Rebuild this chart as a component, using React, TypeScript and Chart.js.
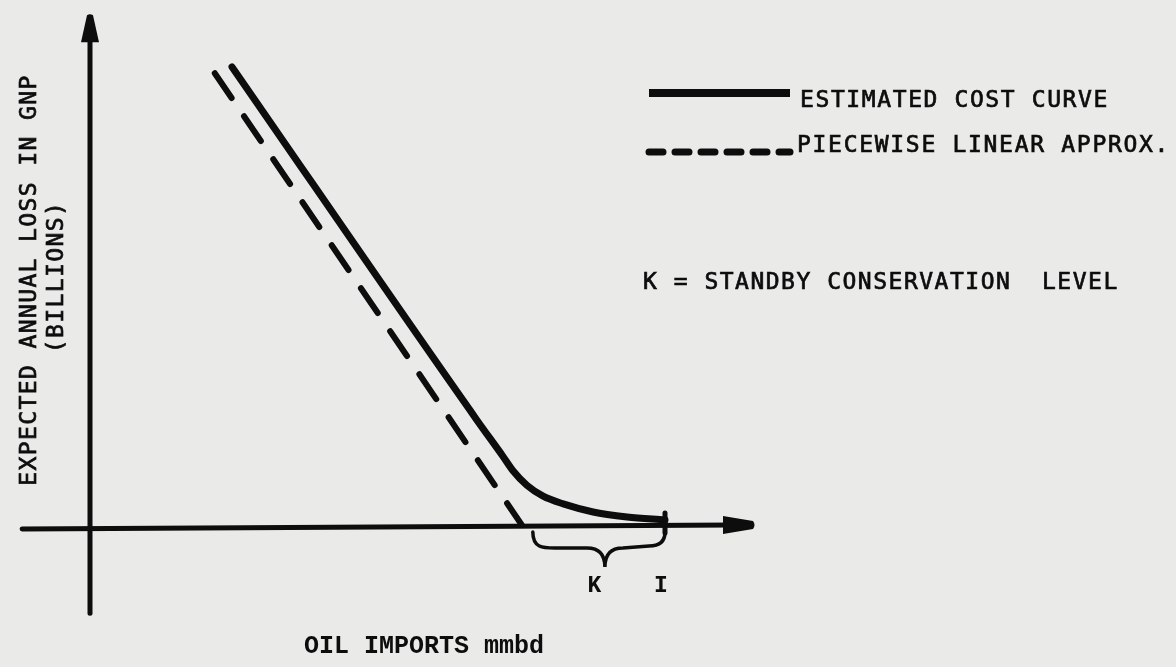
import React, { useEffect, useRef } from "react";
import { Chart, registerables } from "chart.js";

Chart.register(...registerables);

// ---- Data (x: oil imports, mmbd; y: expected annual loss in GNP, billions) ----
const costCurveX = [2.47, 6.73, 7.18, 7.36, 7.6, 7.88, 8.23, 8.75, 9.34, 10.0];
const costCurveY = [101.8, 23.3, 15.3, 12.0, 8.8, 6.4, 4.7, 2.9, 1.8, 1.1];
const linearApproxX = [2.17, 7.51];
const linearApproxY = [100.4, 0];
const K_LEVEL = 7.51; // standby conservation level starts
const I_LEVEL = 10.0; // imports level

const legendLabels = ["ESTIMATED COST CURVE", "PIECEWISE LINEAR APPROX."];
const noteLabel = "K = STANDBY CONSERVATION  LEVEL";
const yTitleLines = ["EXPECTED ANNUAL LOSS IN GNP", "(BILLIONS)"];
const xTitle = "OIL IMPORTS mmbd";
const markerLabels = ["K", "I"];

// ---- Scale extents (so that the origin lands where the drawing has it) ----
const X_MIN = -90 / 57.5;
const X_MAX = (1176 - 90) / 57.5;
const Y_MAX = 525 / 4.5;
const Y_MIN = -(667 - 525) / 4.5;
const AXIS_X_FROM = -1.18;
const AXIS_X_TO = 11.53;
const AXIS_Y_FROM = -19.6;
const AXIS_Y_TO = 113.3;

const INK = "#0d0d0d";
const PAPER = "#eaeae8";
const SANS = '"DejaVu Sans Mono", monospace';
const SERIF = '"Liberation Mono", monospace';

function heavyText(ctx: CanvasRenderingContext2D, text: string, x: number, y: number) {
  ctx.fillText(text, x, y);
  ctx.lineWidth = 0.7;
  ctx.strokeText(text, x, y);
}

const drawingPlugin = {
  id: "drawing",
  beforeDraw(chart: any) {
    const { ctx, width, height } = chart;
    ctx.save();
    ctx.fillStyle = PAPER;
    ctx.fillRect(0, 0, width, height);
    ctx.restore();
  },
  beforeDatasetsDraw(chart: any) {
    const { ctx } = chart;
    const xs = chart.scales.x;
    const ys = chart.scales.y;
    const X = (v: number) => xs.getPixelForValue(v);
    const Y = (v: number) => ys.getPixelForValue(v);
    ctx.save();
    ctx.strokeStyle = INK;
    ctx.fillStyle = INK;
    ctx.lineCap = "round";
    ctx.lineWidth = 5;
    // vertical axis
    const ox = X(0);
    const oy = Y(0);
    ctx.beginPath();
    ctx.moveTo(ox, Y(AXIS_Y_FROM));
    ctx.lineTo(ox, Y(AXIS_Y_TO) + 20);
    ctx.stroke();
    // arrowhead up
    const tipY = Y(AXIS_Y_TO);
    ctx.beginPath();
    ctx.moveTo(ox - 3, tipY);
    ctx.quadraticCurveTo(ox, tipY - 2, ox + 3, tipY);
    ctx.lineTo(ox + 9, tipY + 27);
    ctx.lineTo(ox - 9, tipY + 27);
    ctx.closePath();
    ctx.fill();
    // horizontal axis
    ctx.beginPath();
    ctx.moveTo(X(AXIS_X_FROM), oy + 4);
    ctx.lineTo(X(AXIS_X_TO) - 20, oy);
    ctx.stroke();
    const tipX = X(AXIS_X_TO);
    ctx.beginPath();
    ctx.moveTo(tipX, oy - 4);
    ctx.quadraticCurveTo(tipX + 3, oy, tipX, oy + 4);
    ctx.lineTo(tipX - 30, oy + 9);
    ctx.lineTo(tipX - 30, oy - 9);
    ctx.closePath();
    ctx.fill();
    // I tick
    const ix = X(I_LEVEL);
    ctx.lineWidth = 5;
    ctx.beginPath();
    ctx.moveTo(ix, oy - 12);
    ctx.lineTo(ix, oy + 8);
    ctx.stroke();
    // brace under K..I
    const kx = X(K_LEVEL) + 11;
    const top = oy + 7;
    const mid = oy + 23;
    const tip = oy + 42;
    const cx = (kx + ix) / 2 + 6;
    ctx.lineWidth = 3.5;
    ctx.beginPath();
    ctx.moveTo(kx, top);
    ctx.bezierCurveTo(kx, mid, kx + 10, mid, kx + 22, mid);
    ctx.lineTo(cx - 18, mid);
    ctx.bezierCurveTo(cx - 6, mid, cx, mid + 6, cx, tip);
    ctx.bezierCurveTo(cx, mid + 6, cx + 6, mid, cx + 18, mid);
    ctx.lineTo(ix - 16, mid - 2);
    ctx.bezierCurveTo(ix - 4, mid - 2, ix, mid - 8, ix, top);
    ctx.stroke();
    ctx.restore();
  },
  afterDatasetsDraw(chart: any) {
    const { ctx } = chart;
    const xs = chart.scales.x;
    const ys = chart.scales.y;
    const X = (v: number) => xs.getPixelForValue(v);
    const Y = (v: number) => ys.getPixelForValue(v);
    ctx.save();
    ctx.fillStyle = INK;
    ctx.strokeStyle = INK;
    ctx.textBaseline = "middle";

    // legend samples
    ctx.lineCap = "butt";
    ctx.lineWidth = 8;
    ctx.setLineDash([]);
    ctx.beginPath();
    ctx.moveTo(649, 93);
    ctx.lineTo(790, 93);
    ctx.stroke();
    ctx.lineCap = "round";
    ctx.lineWidth = 7;
    ctx.setLineDash([14, 12]);
    ctx.beginPath();
    ctx.moveTo(649, 152);
    ctx.lineTo(790, 152);
    ctx.stroke();
    ctx.setLineDash([]);

    ctx.font = `23px ${SANS}`;
    ctx.textAlign = "left";
    (ctx as any).letterSpacing = "1.6px";
    heavyText(ctx, legendLabels[0], 800, 101);
    (ctx as any).letterSpacing = "1.7px";
    heavyText(ctx, legendLabels[1], 797, 146);
    (ctx as any).letterSpacing = "1.5px";
    heavyText(ctx, noteLabel, 643, 283);

    // y title (rotated)
    (ctx as any).letterSpacing = "1.4px";
    ctx.save();
    ctx.translate(30, 280);
    ctx.rotate(-Math.PI / 2);
    ctx.textAlign = "center";
    heavyText(ctx, yTitleLines[0], 0, 0);
    ctx.restore();
    ctx.save();
    ctx.translate(57, 277);
    ctx.rotate(-Math.PI / 2);
    ctx.textAlign = "center";
    heavyText(ctx, yTitleLines[1], 0, 0);
    ctx.restore();
    (ctx as any).letterSpacing = "0px";

    // x title
    ctx.font = `bold 25px ${SERIF}`;
    ctx.textAlign = "center";
    ctx.fillText(xTitle, 424, 647);

    // K and I markers
    ctx.font = `bold 23px ${SERIF}`;
    ctx.fillText(markerLabels[0], X((K_LEVEL + I_LEVEL) / 2) + 1, Y(0) + 61);
    ctx.fillText(markerLabels[1], X(I_LEVEL) - 4, Y(0) + 61);
    ctx.restore();
  },
};

export default function App() {
  const ref = useRef<HTMLCanvasElement | null>(null);
  useEffect(() => {
    document.body.style.margin = "0";
    document.body.style.background = PAPER;
    const canvas = ref.current;
    if (!canvas) return;
    const chart = new Chart(canvas, {
      type: "line",
      data: {
        datasets: [
          {
            label: legendLabels[0],
            data: costCurveX.map((x, i) => ({ x, y: costCurveY[i] })),
            borderColor: INK,
            borderWidth: 7,
            pointRadius: 0,
            cubicInterpolationMode: "monotone",
            borderCapStyle: "round",
            borderJoinStyle: "round",
            fill: false,
          },
          {
            label: legendLabels[1],
            data: linearApproxX.map((x, i) => ({ x, y: linearApproxY[i] })),
            borderColor: INK,
            borderWidth: 6,
            borderDash: [30, 22],
            borderCapStyle: "round",
            pointRadius: 0,
            fill: false,
          },
        ],
      },
      options: {
        responsive: false,
        animation: false,
        layout: { padding: 0, autoPadding: false },
        plugins: {
          legend: { display: false },
          tooltip: { enabled: false },
          title: { display: false },
        },
        scales: {
          x: { type: "linear", min: X_MIN, max: X_MAX, display: false },
          y: { type: "linear", min: Y_MIN, max: Y_MAX, display: false },
        },
      },
      plugins: [drawingPlugin],
    } as any);
    return () => chart.destroy();
  }, []);
  return (
    <div style={{ position: "fixed", left: 0, top: 0, width: 1176, height: 667, background: PAPER }}>
      <canvas ref={ref} width={1176} height={667} />
    </div>
  );
}
